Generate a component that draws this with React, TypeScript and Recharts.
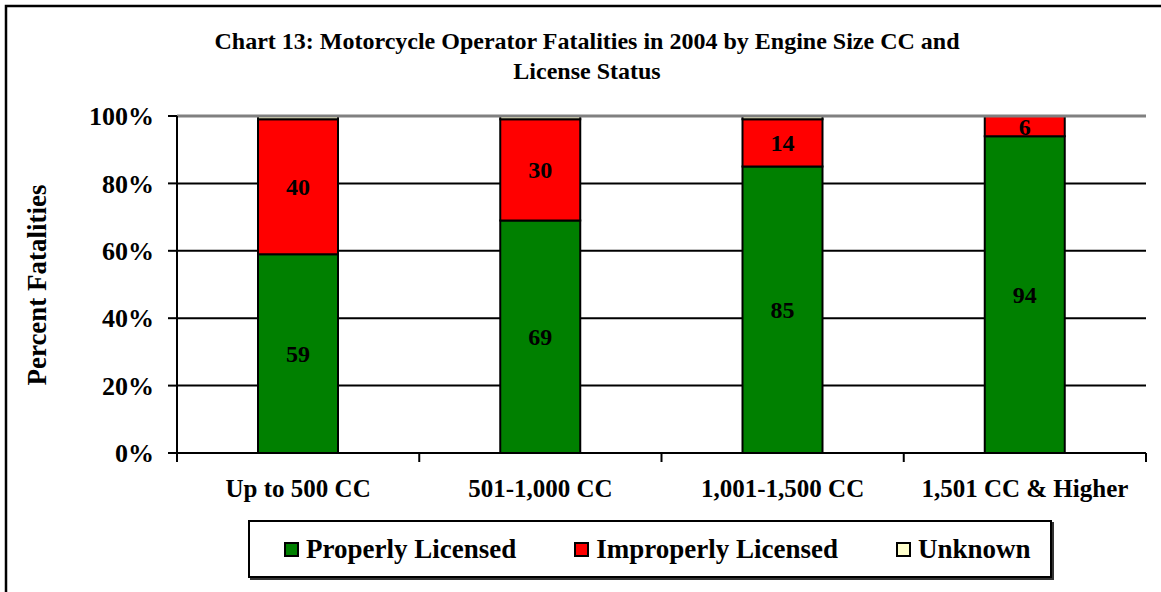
import React from 'react';
import { BarChart, Bar, XAxis, YAxis, CartesianGrid, LabelList, ReferenceLine } from 'recharts';

const categories = ['Up to 500 CC', '501-1,000 CC', '1,001-1,500 CC', '1,501 CC & Higher'];
const properlyLicensed = [59, 69, 85, 94];
const improperlyLicensed = [40, 30, 14, 6];
const unknownStatus = [1, 1, 1, 0];
const yTicks = [0, 20, 40, 60, 80, 100];

const SERIES = [
  { key: 'properly', name: 'Properly Licensed', color: '#008000', label: true },
  { key: 'improperly', name: 'Improperly Licensed', color: '#FF0000', label: true },
  { key: 'unknown', name: 'Unknown', color: '#FFFFCC', label: false },
];

const data = categories.map((name, i) => ({
  name,
  properly: properlyLicensed[i],
  improperly: improperlyLicensed[i],
  unknown: unknownStatus[i],
}));

const FONT = '"Liberation Serif", "Times New Roman", serif';

// x tick: label plus a tick mark on the category boundaries
const CategoryTick = (props: any) => {
  const { x, y, payload, index, visibleTicksCount, width } = props;
  const count = visibleTicksCount || categories.length;
  const band = (width || 969) / count;
  const left = x - band / 2;
  const right = x + band / 2;
  return (
    <g>
      <line x1={left} x2={left} y1={y - 9} y2={y} stroke="#000" strokeWidth={2} />
      {index === count - 1 && (
        <line x1={right} x2={right} y1={y - 9} y2={y} stroke="#000" strokeWidth={2} />
      )}
      <text x={x} y={y + 35} textAnchor="middle" fill="#000" fontSize={25} fontWeight="bold" fontFamily={FONT}>
        {payload.value}
      </text>
    </g>
  );
};

const App: React.FC = () => {
  return (
    <div style={{ position: 'relative', width: 1161, height: 592, overflow: 'hidden', background: '#fff', fontFamily: FONT }}>
      {/* the frame sits at the very edge, so drop the default body margin */}
      <style>{'body { margin: 0; }'}</style>

      <div style={{ position: 'absolute', left: 0, top: 0 }}>
        <BarChart width={1161} height={592} data={data} margin={{ top: 116, right: 15, bottom: 0, left: 0 }}>
          <CartesianGrid vertical={false} stroke="#000" strokeWidth={2} />
          <XAxis
            dataKey="name"
            height={139}
            axisLine={{ stroke: '#000', strokeWidth: 2 }}
            tickLine={false}
            tickSize={9}
            tickMargin={0}
            interval={0}
            tick={<CategoryTick />}
          />
          <YAxis
            width={177}
            domain={[0, 100]}
            ticks={yTicks}
            tickFormatter={(v) => `${v}%`}
            axisLine={{ stroke: '#000', strokeWidth: 2 }}
            tickLine={{ stroke: '#000', strokeWidth: 2 }}
            tickSize={9}
            tickMargin={14}
            tick={{ fill: '#000', fontSize: 26, fontWeight: 'bold', fontFamily: FONT }}
          />
          <YAxis
            yAxisId="right"
            orientation="right"
            width={0}
            domain={[0, 100]}
            tick={false}
            tickLine={false}
            axisLine={{ stroke: '#808080', strokeWidth: 3 }}
          />
          <ReferenceLine y={100} stroke="#808080" strokeWidth={3} />
          {SERIES.map((s) => (
            <Bar
              key={s.key}
              dataKey={s.key}
              name={s.name}
              stackId="a"
              fill={s.color}
              stroke="#000"
              strokeWidth={2}
              barSize={80}
              isAnimationActive={false}
            >
              {s.label && (
                <LabelList
                  dataKey={s.key}
                  position="center"
                  fill="#000"
                  fontSize={24}
                  fontWeight="bold"
                  fontFamily={FONT}
                />
              )}
            </Bar>
          ))}
        </BarChart>
      </div>

      {/* outer frame of the chart, cut by the picture on the right and bottom */}
      <svg width={1161} height={592} style={{ position: 'absolute', left: 0, top: 0, pointerEvents: 'none' }}>
        <polyline points="6,600 6,6 1170,6" fill="none" stroke="#000" strokeWidth={2.5} />
      </svg>

      <div style={{ position: 'absolute', left: 87, top: 26, width: 1000, textAlign: 'center', fontSize: 24, lineHeight: '30px', fontWeight: 'bold', color: '#000' }}>
        Chart 13: Motorcycle Operator Fatalities in 2004 by Engine Size CC and
        <br />
        License Status
      </div>

      <div style={{ position: 'absolute', left: 37, top: 285, transform: 'translate(-50%, -50%) rotate(-90deg)', whiteSpace: 'nowrap', fontSize: 27, fontWeight: 'bold', color: '#000' }}>
        Percent Fatalities
      </div>

      <div style={{ position: 'absolute', left: 248, top: 520, width: 804, height: 58, border: '2px solid #000', boxShadow: '2px 2px 0 #333', display: 'flex', alignItems: 'center', paddingLeft: 34, boxSizing: 'border-box', gap: 58 }}>
        {SERIES.map((s) => (
          <div key={s.key} style={{ display: 'flex', alignItems: 'center', fontSize: 27, fontWeight: 'bold', color: '#000' }}>
            <span style={{ display: 'inline-block', width: 11, height: 11, border: '2px solid #000', background: s.color, marginRight: 7 }} />
            {s.name}
          </div>
        ))}
      </div>
    </div>
  );
};

export default App;
